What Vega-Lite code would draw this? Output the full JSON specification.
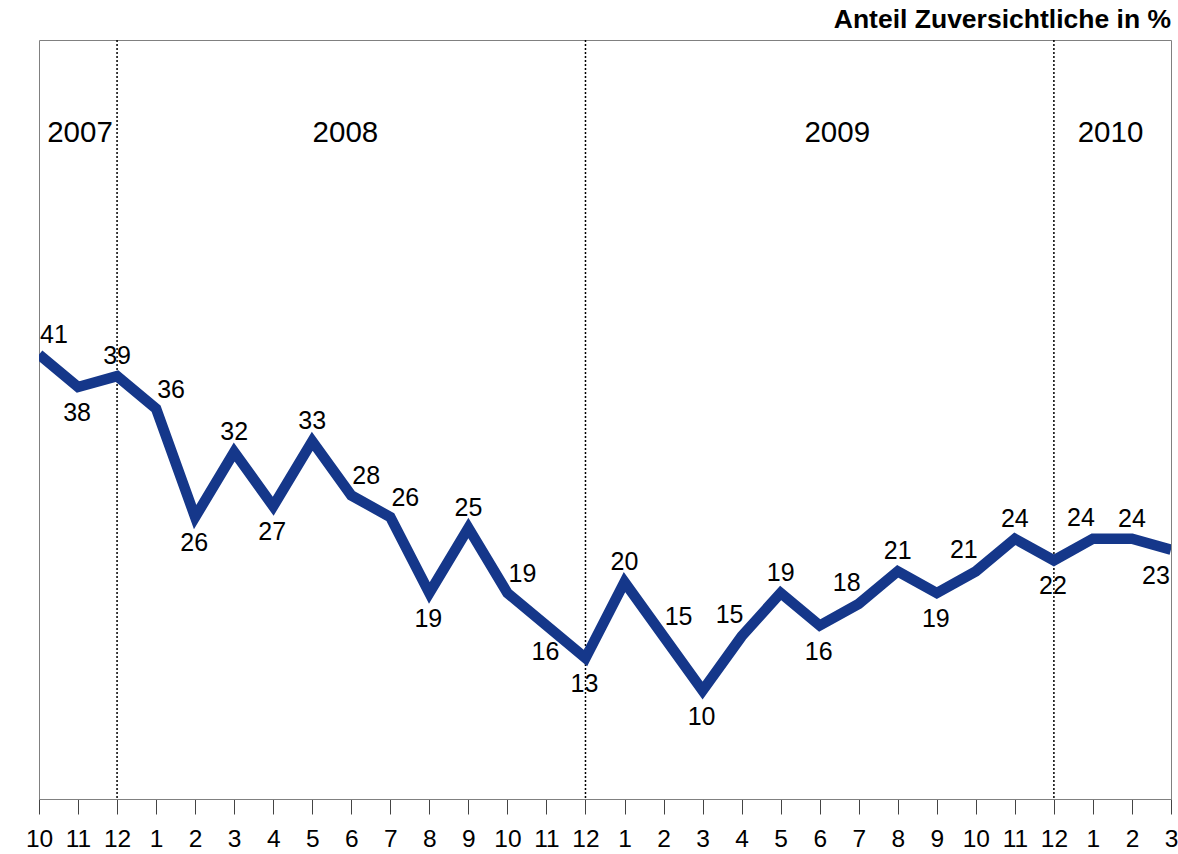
{
  "$schema": "https://vega.github.io/schema/vega-lite/v6.json",
  "width": 1132,
  "height": 759,
  "autosize": {"type": "none"},
  "padding": {"left": 39, "top": 40, "right": 7, "bottom": 55},
  "background": "white",
  "config": {
    "font": "Liberation Sans",
    "view": {"stroke": "#808080", "strokeWidth": 1}
  },
  "title": {
    "text": "Anteil Zuversichtliche in %",
    "anchor": "end",
    "frame": "group",
    "fontSize": 26.5,
    "fontWeight": "bold",
    "font": "Liberation Sans",
    "color": "black",
    "baseline": "bottom",
    "offset": -21
  },
  "datasets": {
    "werte": [
      {"idx": 0, "jahr": 2007, "monat": 10, "anteil": 41, "lage": "oben rechts"},
      {"idx": 1, "jahr": 2007, "monat": 11, "anteil": 38, "lage": "unten"},
      {"idx": 2, "jahr": 2007, "monat": 12, "anteil": 39, "lage": "oben"},
      {"idx": 3, "jahr": 2008, "monat": 1, "anteil": 36, "lage": "oben rechts"},
      {"idx": 4, "jahr": 2008, "monat": 2, "anteil": 26, "lage": "unten"},
      {"idx": 5, "jahr": 2008, "monat": 3, "anteil": 32, "lage": "oben"},
      {"idx": 6, "jahr": 2008, "monat": 4, "anteil": 27, "lage": "unten"},
      {"idx": 7, "jahr": 2008, "monat": 5, "anteil": 33, "lage": "oben"},
      {"idx": 8, "jahr": 2008, "monat": 6, "anteil": 28, "lage": "oben rechts"},
      {"idx": 9, "jahr": 2008, "monat": 7, "anteil": 26, "lage": "oben rechts"},
      {"idx": 10, "jahr": 2008, "monat": 8, "anteil": 19, "lage": "unten"},
      {"idx": 11, "jahr": 2008, "monat": 9, "anteil": 25, "lage": "oben"},
      {"idx": 12, "jahr": 2008, "monat": 10, "anteil": 19, "lage": "oben rechts"},
      {"idx": 13, "jahr": 2008, "monat": 11, "anteil": 16, "lage": "unten"},
      {"idx": 14, "jahr": 2008, "monat": 12, "anteil": 13, "lage": "unten"},
      {"idx": 15, "jahr": 2009, "monat": 1, "anteil": 20, "lage": "oben"},
      {"idx": 16, "jahr": 2009, "monat": 2, "anteil": 15, "lage": "oben rechts"},
      {"idx": 17, "jahr": 2009, "monat": 3, "anteil": 10, "lage": "unten"},
      {"idx": 18, "jahr": 2009, "monat": 4, "anteil": 15, "lage": "oben links"},
      {"idx": 19, "jahr": 2009, "monat": 5, "anteil": 19, "lage": "oben"},
      {"idx": 20, "jahr": 2009, "monat": 6, "anteil": 16, "lage": "unten"},
      {"idx": 21, "jahr": 2009, "monat": 7, "anteil": 18, "lage": "oben links"},
      {"idx": 22, "jahr": 2009, "monat": 8, "anteil": 21, "lage": "oben"},
      {"idx": 23, "jahr": 2009, "monat": 9, "anteil": 19, "lage": "unten"},
      {"idx": 24, "jahr": 2009, "monat": 10, "anteil": 21, "lage": "oben links"},
      {"idx": 25, "jahr": 2009, "monat": 11, "anteil": 24, "lage": "oben"},
      {"idx": 26, "jahr": 2009, "monat": 12, "anteil": 22, "lage": "unten"},
      {"idx": 27, "jahr": 2010, "monat": 1, "anteil": 24, "lage": "oben links"},
      {"idx": 28, "jahr": 2010, "monat": 2, "anteil": 24, "lage": "oben"},
      {"idx": 29, "jahr": 2010, "monat": 3, "anteil": 23, "lage": "unten links"}
    ],
    "jahre": [
      {"jahr": "2007", "mitte": 1.05},
      {"jahr": "2008", "mitte": 7.85},
      {"jahr": "2009", "mitte": 20.45},
      {"jahr": "2010", "mitte": 27.45}
    ]
  },
  "data": {"name": "werte"},
  "encoding": {
    "x": {
      "field": "idx",
      "type": "quantitative",
      "scale": {"domain": [0, 29], "nice": false, "zero": false},
      "axis": {
        "title": null,
        "values": [0,1,2,3,4,5,6,7,8,9,10,11,12,13,14,15,16,17,18,19,20,21,22,23,24,25,26,27,28,29],
        "labelExpr": "((datum.value + 9) % 12) + 1",
        "grid": false,
        "domain": true,
        "domainColor": "#808080",
        "domainWidth": 1,
        "ticks": true,
        "tickSize": 15,
        "tickColor": "#444444",
        "tickWidth": 1,
        "labelFontSize": 24.5,
        "labelFont": "Liberation Sans",
        "labelColor": "black",
        "labelPadding": 13,
        "labelAngle": 0,
        "labelOverlap": false,
        "labelFlush": false
      }
    }
  },
  "layer": [
    {
      "transform": [{"filter": "datum.monat == 12"}],
      "mark": {"type": "rule", "color": "black", "strokeWidth": 1.5, "strokeDash": [2, 2]},
      "encoding": {}
    },
    {
      "mark": {"type": "line", "color": "#15378a", "strokeWidth": 10.5, "clip": true, "strokeJoin": "miter"},
      "encoding": {
        "y": {"field": "anteil", "type": "quantitative", "scale": {"domain": [0, 70], "nice": false}, "axis": null}
      }
    },
    {
      "transform": [{"filter": "datum.lage == 'oben'"}],
      "mark": {"type": "text", "fontSize": 25, "color": "black", "baseline": "middle", "dy": -20},
      "encoding": {"y": {"field": "anteil", "type": "quantitative"}, "text": {"field": "anteil"}}
    },
    {
      "transform": [{"filter": "datum.lage == 'oben rechts'"}],
      "mark": {"type": "text", "fontSize": 25, "color": "black", "baseline": "middle", "dx": 15, "dy": -19},
      "encoding": {"y": {"field": "anteil", "type": "quantitative"}, "text": {"field": "anteil"}}
    },
    {
      "transform": [{"filter": "datum.lage == 'oben links'"}],
      "mark": {"type": "text", "fontSize": 25, "color": "black", "baseline": "middle", "dx": -12, "dy": -21},
      "encoding": {"y": {"field": "anteil", "type": "quantitative"}, "text": {"field": "anteil"}}
    },
    {
      "transform": [{"filter": "datum.lage == 'unten'"}],
      "mark": {"type": "text", "fontSize": 25, "color": "black", "baseline": "middle", "dx": -1, "dy": 26},
      "encoding": {"y": {"field": "anteil", "type": "quantitative"}, "text": {"field": "anteil"}}
    },
    {
      "transform": [{"filter": "datum.lage == 'unten links'"}],
      "mark": {"type": "text", "fontSize": 25, "color": "black", "baseline": "middle", "dx": -15, "dy": 26},
      "encoding": {"y": {"field": "anteil", "type": "quantitative"}, "text": {"field": "anteil"}}
    },
    {
      "data": {"name": "jahre"},
      "mark": {"type": "text", "fontSize": 29.5, "color": "black", "baseline": "middle"},
      "encoding": {
        "x": {"field": "mitte", "type": "quantitative"},
        "y": {"datum": 61.4, "type": "quantitative"},
        "text": {"field": "jahr"}
      }
    }
  ]
}
